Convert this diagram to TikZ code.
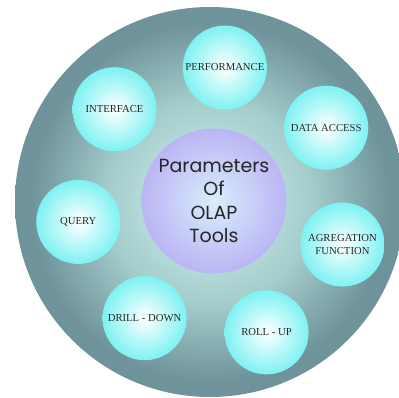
\documentclass[tikz,border=0pt]{standalone}
\usepackage{fontspec}
\setmainfont{Liberation Serif}
\newfontfamily\olapfont{Poppins}
\usepackage{tikz}
\usetikzlibrary{shapes.geometric, positioning, calc}
\definecolor{ringin}{HTML}{D4F2F2}
\definecolor{ringmid}{HTML}{A4CDCC}
\definecolor{ringout}{HTML}{6F939A}
\definecolor{bubble}{HTML}{7EF2F2}
\definecolor{hubin}{HTML}{D8EEFC}
\definecolor{hubout}{HTML}{BBB5F4}
\definecolor{ink}{HTML}{262626}
\pgfdeclareradialshading{ringglow}{\pgfpoint{0bp}{0bp}}{color(0bp)=(ringin); color(13bp)=(ringmid); color(23bp)=(ringout); color(50bp)=(ringout)}
\tikzstyle{param} = [circle, minimum size=2.1cm, inner sep=0pt, align=center, text=ink, shading=radial, inner color=white, outer color=bubble, font=\fontsize{7.6}{9}\selectfont]
\tikzstyle{hub} = [circle, minimum size=3.62cm, inner sep=0pt, align=center, text=ink, shading=radial, inner color=hubin, outer color=hubout, font=\olapfont\fontsize{13.5}{16.4}\selectfont]

\begin{document}
\begin{tikzpicture}[x=0.025cm, y=0.025cm]
        \useasboundingbox (0,0) rectangle (399,398);
        \clip (0,0) rectangle (399,398);
        % outer ring
        \shade[shading=ringglow] (210,196) circle (195);
        \node[hub] (olap) at (214,197) {Parameters\\Of\\OLAP\\Tools};
        \coordinate (mid) at (213,195);
        \node[param] (perf) at ($(mid)+(85:136)$) {PERFORMANCE};
        \node[param] (data) at ($(mid)+(33.6:136)$) {DATA ACCESS};
        \node[param] (agg) at ($(mid)+(-17.8:136)$) {AGREGATION\\FUNCTION};
        \node[param] (roll) at ($(mid)+(-67.5:140)$) {ROLL - UP};
        \node[param] (drill) at ($(mid)+(-120.7:134)$) {DRILL - DOWN};
        \node[param] (query) at ($(mid)+(188:136)$) {QUERY};
        \node[param] (iface) at ($(mid)+(136.4:136)$) {INTERFACE};
    \end{tikzpicture}
\end{document}
